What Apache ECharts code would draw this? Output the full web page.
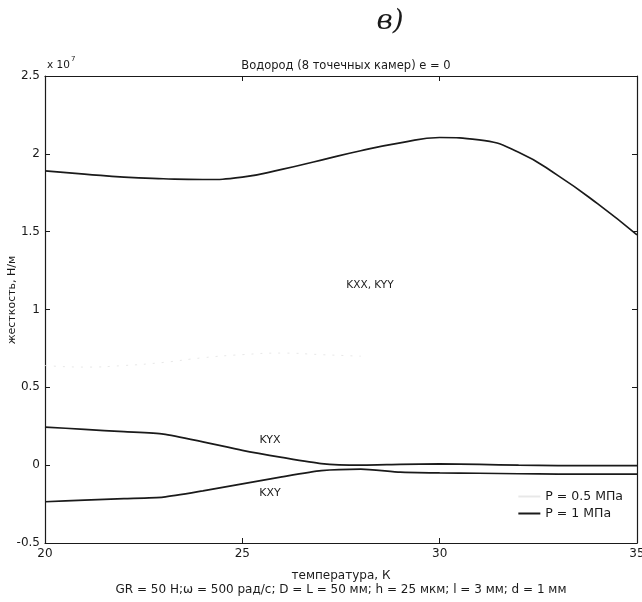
<!DOCTYPE html>
<html>
<head>
<meta charset="utf-8">
<script src="https://cdn.jsdelivr.net/npm/echarts@6/dist/echarts.min.js"></script>
<style>
  html, body { margin: 0; padding: 0; background: #fff; }
  #chart { width: 642px; height: 602px; }
</style>
</head>
<body>
<div id="chart"></div>
<script>
// Temperature, K
const temperature = [20, 21, 22, 23, 24, 25, 26, 27, 28, 29, 30, 31, 32, 33, 34, 35];
// Stiffness values in units of 1e7 N/m, P = 1 MPa
const kxxKyy1 = [1.89, 1.87, 1.85, 1.84, 1.835, 1.85, 1.90, 1.96, 2.02, 2.07, 2.105, 2.09, 2.01, 1.86, 1.68, 1.48];
const kyx1 = [0.245, 0.23, 0.215, 0.20, 0.15, 0.095, 0.05, 0.01, 0.0, 0.005, 0.008, 0.005, 0.0, -0.003, -0.003, -0.003];
const kxy1 = [-0.235, -0.225, -0.215, -0.205, -0.165, -0.12, -0.075, -0.035, -0.025, -0.045, -0.05, -0.052, -0.055, -0.057, -0.058, -0.058];
// P = 0.5 MPa, faint dotted trace (only partly legible)
const temperatureHalf = [20, 21, 22, 23, 24, 25, 26, 27, 28];
const kxxKyyHalf = [0.64, 0.63, 0.64, 0.66, 0.69, 0.71, 0.72, 0.71, 0.70];
// Axis ticks
const xTicks = [20, 25, 30, 35];
const yTicks = [-0.5, 0, 0.5, 1, 1.5, 2, 2.5];

const legendNames = ['P = 0.5 МПа', 'P = 1 МПа'];
const FONT = 'DejaVu Sans, Liberation Sans, Arial, sans-serif';
const INK = '#1a1a1a';

const pairs = (xs, ys) => xs.map((x, i) => [x, ys[i]]);

const chart = echarts.init(document.getElementById('chart'), null, { renderer: 'canvas' });

const axisLine = { show: true, onZero: false, lineStyle: { color: INK, width: 1.2 } };
const tickIn = { show: true, inside: true, length: 5, lineStyle: { color: INK, width: 1 } };

chart.setOption({
  backgroundColor: '#fff',
  animation: false,
  grid: { left: 45, right: 5, top: 76, bottom: 59, containLabel: false, outerBoundsMode: 'none' },
  title: {
    text: 'Водород (8 точечных камер) е = 0',
    left: 341, top: 55, textAlign: 'center',
    textStyle: { fontFamily: FONT, fontSize: 11.5, fontWeight: 'normal', color: INK }
  },
  xAxis: [{
    type: 'value', min: 20, max: 35, interval: 5,
    axisLine, axisTick: tickIn, splitLine: { show: false },
    axisLabel: { color: INK, fontFamily: FONT, fontSize: 12, margin: 5,
      formatter: v => xTicks.includes(v) ? String(v) : '' },
    name: 'температура, К', nameLocation: 'middle', nameGap: 27,
    nameTextStyle: { color: INK, fontFamily: FONT, fontSize: 12 }
  }, {
    type: 'value', position: 'top', min: 20, max: 35, interval: 5,
    axisLine, axisTick: tickIn, axisLabel: { show: false }, splitLine: { show: false }
  }],
  yAxis: [{
    type: 'value', min: -0.5, max: 2.5, interval: 0.5,
    axisLine, axisTick: tickIn, splitLine: { show: false },
    axisLabel: { color: INK, fontFamily: FONT, fontSize: 12, margin: 5,
      formatter: v => yTicks.includes(v) ? String(v) : '' }
  }, {
    type: 'value', position: 'right', min: -0.5, max: 2.5, interval: 0.5,
    axisLine, axisTick: tickIn, axisLabel: { show: false }, splitLine: { show: false }
  }],
  legend: {
    data: legendNames,
    orient: 'vertical', right: 14, top: 485,
    itemWidth: 22, itemHeight: 2, itemGap: 4, icon: 'rect',
    textStyle: { color: INK, fontFamily: FONT, fontSize: 12.5 }
  },
  series: [
    {
      name: legendNames[0], type: 'line', data: pairs(temperatureHalf, kxxKyyHalf),
      showSymbol: false, smooth: true, itemStyle: { color: '#e8e8e8' },
      lineStyle: { color: '#e8e8e8', width: 1, type: [2, 7] }
    },
    {
      name: legendNames[1], type: 'line', data: pairs(temperature, kxxKyy1),
      showSymbol: false, smooth: true, itemStyle: { color: INK },
      lineStyle: { color: INK, width: 1.7 }
    },
    {
      name: legendNames[1], type: 'line', data: pairs(temperature, kyx1),
      showSymbol: false, smooth: 0.2, itemStyle: { color: INK },
      lineStyle: { color: INK, width: 1.7 }
    },
    {
      name: legendNames[1], type: 'line', data: pairs(temperature, kxy1),
      showSymbol: false, smooth: 0.2, itemStyle: { color: INK },
      lineStyle: { color: INK, width: 1.7 }
    }
  ],
  graphic: [
    { type: 'text', x: 390, y: 22,
      style: { text: 'в)', fontFamily: 'DejaVu Serif, Liberation Serif, serif', fontStyle: 'italic',
        fontSize: 28, fill: INK, align: 'center', verticalAlign: 'middle' } },
    { type: 'text', left: 47, top: 56,
      style: { text: '{b|x 10}{s|7}', fill: INK,
        rich: { b: { fontFamily: FONT, fontSize: 10.5, fill: INK, padding: [6, 0, 0, 0] },
                s: { fontFamily: FONT, fontSize: 7, fill: INK, padding: [0, 0, 6, 1] } } } },
    // vertical axis title
    { type: 'text', x: 12, y: 300, rotation: Math.PI / 2,
      style: { text: 'жесткость, Н/м', fontFamily: FONT, fontSize: 11, fill: INK, align: 'center', verticalAlign: 'middle' } },
    { type: 'text', x: 370, y: 285, style: { text: 'KXX, KYY', fontFamily: FONT, fontSize: 10.5, fill: INK, align: 'center', verticalAlign: 'middle' } },
    { type: 'text', x: 270, y: 440, style: { text: 'KYX', fontFamily: FONT, fontSize: 11, fill: INK, align: 'center', verticalAlign: 'middle' } },
    { type: 'text', x: 270, y: 493, style: { text: 'KXY', fontFamily: FONT, fontSize: 11, fill: INK, align: 'center', verticalAlign: 'middle' } },
    { type: 'text', x: 341, y: 590, style: {
        text: 'GR = 50 Н;ω = 500 рад/с; D = L = 50 мм; h = 25 мкм; l = 3 мм; d = 1 мм',
        fontFamily: FONT, fontSize: 12, fill: INK, align: 'center', verticalAlign: 'middle' } }
  ]
});
</script>
</body>
</html>
